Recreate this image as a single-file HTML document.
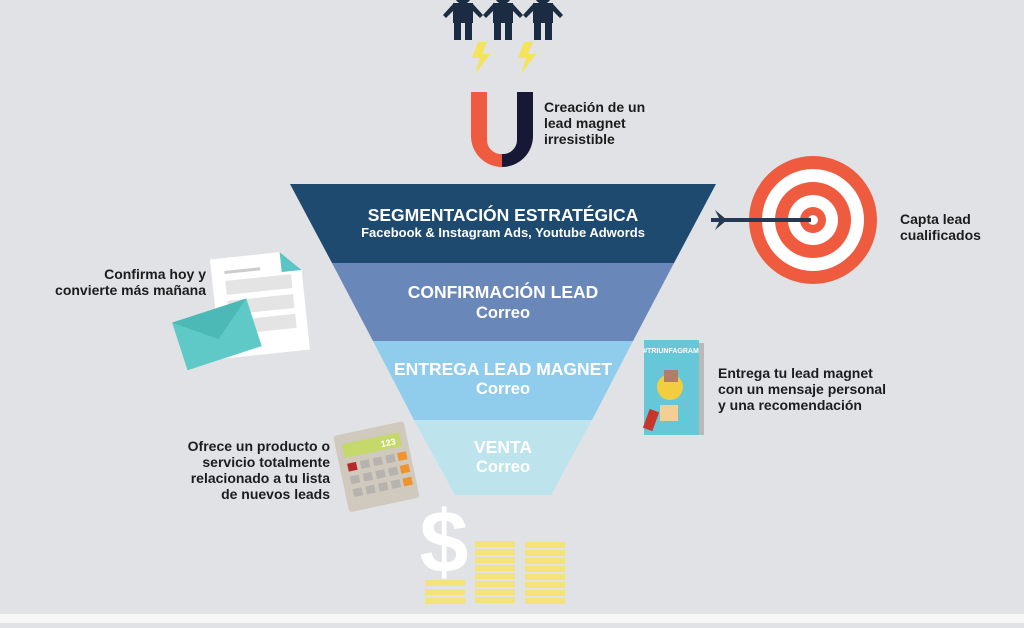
<!DOCTYPE html>
<html><head><meta charset="utf-8"><style>
html,body{margin:0;padding:0}
body{width:1024px;height:623px;background:#e1e2e6;overflow:hidden;font-family:"Liberation Sans",sans-serif}
svg text{font-family:"Liberation Sans",sans-serif;font-weight:bold}
</style></head><body>
<svg width="1024" height="623" viewBox="0 0 1024 623" xmlns="http://www.w3.org/2000/svg">
<rect width="1024" height="623" fill="#e1e2e6"/>
<rect y="614" width="1024" height="9" fill="#f7f7f8"/>
<!-- people -->
<g fill="#1b2c42">
 <g id="p"><circle cx="463" cy="-4" r="8"/><rect x="453" y="3" width="20" height="20"/><rect x="454" y="21" width="7" height="19"/><rect x="465" y="21" width="7" height="19"/><path d="M453 4 L443 15 L446 18 L455 9Z M473 4 L483 15 L480 18 L471 9Z"/></g>
 <use href="#p" x="40"/><use href="#p" x="80"/>
</g>
<!-- bolts -->
<path d="M478 42 L472 58 L480 58 L475 74 L490 54 L482 54 L487 42Z" fill="#f5e35a"/>
<path d="M524 42 L518 58 L526 58 L521 74 L536 54 L528 54 L533 42Z" fill="#f5e35a"/>
<!-- magnet -->
<path d="M471 92 L487 92 L487 140 A14 14 0 0 0 502 154 L502 167 A31 31 0 0 1 471 136Z" fill="#ee5b3f"/>
<path d="M533 92 L517 92 L517 140 A14 14 0 0 1 502 154 L502 167 A31 31 0 0 0 533 136Z" fill="#161836"/>
<text x="544" y="112" font-size="14" fill="#1c1c1c">Creación de un</text>
<text x="544" y="128" font-size="14" fill="#1c1c1c">lead magnet</text>
<text x="544" y="144" font-size="14" fill="#1c1c1c">irresistible</text>
<!-- funnel -->
<polygon points="290,184 716,184 674,263 332,263" fill="#1f4a70"/>
<polygon points="332,263 674,263 633,341 373,341" fill="#6a87ba"/>
<polygon points="373,341 633,341 592,420 414,420" fill="#90cdec"/>
<polygon points="414,420 592,420 551,495 455,495" fill="#bde4ed"/>
<g fill="#fff" text-anchor="middle">
<text x="503" y="221" font-size="17.5">SEGMENTACIÓN ESTRATÉGICA</text>
<text x="503" y="237" font-size="13">Facebook &amp; Instagram Ads, Youtube Adwords</text>
<text x="503" y="298" font-size="17.5">CONFIRMACIÓN LEAD</text>
<text x="503" y="318" font-size="16.5">Correo</text>
<text x="503" y="375" font-size="17.5">ENTREGA LEAD MAGNET</text>
<text x="503" y="394" font-size="16.5">Correo</text>
<text x="503" y="453" font-size="17.5">VENTA</text>
<text x="503" y="472" font-size="16.5">Correo</text>
</g>
<!-- target -->
<circle cx="813" cy="220" r="64" fill="#ee5b3f"/>
<circle cx="813" cy="220" r="51" fill="#fff"/>
<circle cx="813" cy="220" r="38" fill="#ee5b3f"/>
<circle cx="813" cy="220" r="25" fill="#fff"/>
<circle cx="813" cy="220" r="13" fill="#ee5b3f"/>
<circle cx="813" cy="220" r="5" fill="#fff"/>
<rect x="711" y="218" width="100" height="4" fill="#253a52"/>
<path d="M715 210 L727 220 L715 230 L720 220Z" fill="#253a52"/>
<text x="900" y="224" font-size="14" fill="#1c1c1c">Capta lead</text>
<text x="900" y="240" font-size="14" fill="#1c1c1c">cualificados</text>
<!-- document + envelope -->
<g transform="rotate(-6 255 305)">
<path d="M215 255 L285 255 L305 275 L305 355 L215 355Z" fill="#fff"/>
<path d="M285 255 L305 275 L285 275Z" fill="#5bc4c4"/>
<rect x="228" y="268" width="36" height="3" fill="#ccc"/>
<rect x="228" y="278" width="66" height="14" fill="#e4e4e4"/>
<rect x="228" y="298" width="66" height="14" fill="#e4e4e4"/>
<rect x="228" y="318" width="66" height="14" fill="#e4e4e4"/>
</g>
<g transform="rotate(-18 215 335)">
<rect x="178" y="310" width="78" height="50" fill="#5ec9c6"/>
<path d="M178 310 L217 340 L256 310" fill="#4cb9b6"/>
</g>
<text x="206" y="279" font-size="14" fill="#1c1c1c" text-anchor="end">Confirma hoy y</text>
<text x="206" y="295" font-size="14" fill="#1c1c1c" text-anchor="end">convierte más mañana</text>
<!-- book -->
<rect x="649" y="343" width="55" height="92" fill="#b9b9b9"/>
<rect x="644" y="340" width="55" height="95" fill="#66c7d8"/>
<text x="671" y="353" font-size="7" fill="#fff" text-anchor="middle">#TRIUNFAGRAM</text>
<circle cx="670" cy="387" r="13" fill="#f1cd3f"/>
<rect x="664" y="370" width="14" height="12" fill="#b27d64"/>
<rect x="660" y="405" width="18" height="16" fill="#f3cf95"/>
<rect x="646" y="410" width="10" height="20" fill="#c9352b" transform="rotate(20 651 420)"/>
<text x="718" y="378" font-size="14" fill="#1c1c1c">Entrega tu lead magnet</text>
<text x="718" y="394" font-size="14" fill="#1c1c1c">con un mensaje personal</text>
<text x="718" y="410" font-size="14" fill="#1c1c1c">y una recomendación</text>
<!-- calculator -->
<g transform="rotate(-12 375 465)">
<rect x="340" y="428" width="72" height="78" rx="3" fill="#cfc9be"/>
<rect x="347" y="438" width="58" height="14" fill="#c4d96a"/>
<text x="400" y="449" font-size="9" fill="#fff" text-anchor="end">123</text>
<g fill="#b6b3ae">
<rect x="361" y="458" width="9" height="8"/><rect x="374" y="458" width="9" height="8"/>
<rect x="348" y="471" width="9" height="8"/><rect x="361" y="471" width="9" height="8"/><rect x="374" y="471" width="9" height="8"/>
<rect x="348" y="484" width="9" height="8"/><rect x="361" y="484" width="9" height="8"/><rect x="374" y="484" width="9" height="8"/>
<rect x="387" y="458" width="9" height="8"/><rect x="387" y="471" width="9" height="8"/><rect x="387" y="484" width="9" height="8"/>
</g>
<rect x="348" y="458" width="9" height="8" fill="#b82a2a"/>
<rect x="399" y="458" width="9" height="8" fill="#f0922d"/><rect x="399" y="471" width="9" height="8" fill="#f0922d"/><rect x="399" y="484" width="9" height="8" fill="#f0922d"/>
</g>
<text x="330" y="451" font-size="14" fill="#1c1c1c" text-anchor="end">Ofrece un producto o</text>
<text x="330" y="467" font-size="14" fill="#1c1c1c" text-anchor="end">servicio totalmente</text>
<text x="330" y="483" font-size="14" fill="#1c1c1c" text-anchor="end">relacionado a tu lista</text>
<text x="330" y="499" font-size="14" fill="#1c1c1c" text-anchor="end">de nuevos leads</text>
<!-- dollar + coins -->
<text x="444" y="572" font-size="88" fill="#fff" text-anchor="middle">$</text>
<g fill="#f3e37a">
<rect x="425" y="580" width="40" height="6"/><rect x="425" y="589" width="40" height="6"/><rect x="425" y="598" width="40" height="6"/>
<rect x="475" y="541" width="40" height="6"/><rect x="475" y="549" width="40" height="6"/><rect x="475" y="557" width="40" height="6"/><rect x="475" y="565" width="40" height="6"/><rect x="475" y="573" width="40" height="6"/><rect x="475" y="581" width="40" height="6"/><rect x="475" y="589" width="40" height="6"/><rect x="475" y="597" width="40" height="6"/>
<rect x="525" y="542" width="40" height="6"/><rect x="525" y="550" width="40" height="6"/><rect x="525" y="558" width="40" height="6"/><rect x="525" y="566" width="40" height="6"/><rect x="525" y="574" width="40" height="6"/><rect x="525" y="582" width="40" height="6"/><rect x="525" y="590" width="40" height="6"/><rect x="525" y="598" width="40" height="6"/>
</g>
</svg>
</body></html>
